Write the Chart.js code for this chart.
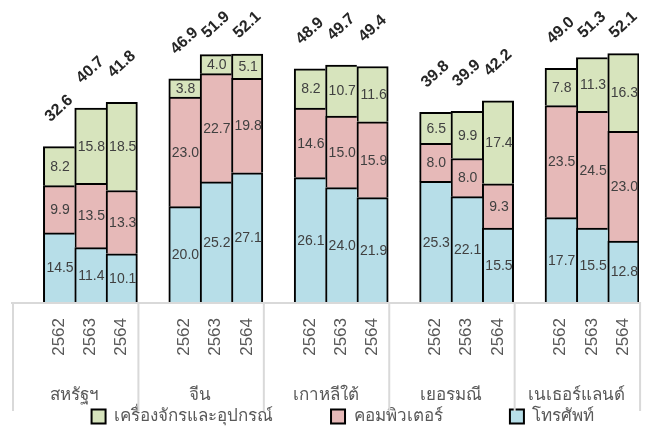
<!DOCTYPE html>
<html>
<head>
<meta charset="utf-8">
<script src="https://cdn.jsdelivr.net/npm/chart.js@4/dist/chart.umd.min.js"></script>
<style>
  html, body { margin: 0; padding: 0; background: #fff; }
  #wrap { width: 660px; height: 435px; }
</style>
</head>
<body>
<div id="wrap"><canvas id="tradeChart" width="660" height="435"></canvas></div>
<script>
// Countries and years shown on the two-level x axis
const countries = ['สหรัฐฯ', 'จีน', 'เกาหลีใต้', 'เยอรมณี', 'เนเธอร์แลนด์'];
const years = ['2562', '2563', '2564'];

// Values per country, three years each
const phones = [
    [14.5, 11.4, 10.1],
    [20.0, 25.2, 27.1],
    [26.1, 24.0, 21.9],
    [25.3, 22.1, 15.5],
    [17.7, 15.5, 12.8]
];
const computers = [
    [9.9, 13.5, 13.3],
    [23.0, 22.7, 19.8],
    [14.6, 15.0, 15.9],
    [8.0, 8.0, 9.3],
    [23.5, 24.5, 23.0]
];
const machinery = [
    [8.2, 15.8, 18.5],
    [3.8, 4.0, 5.1],
    [8.2, 10.7, 11.6],
    [6.5, 9.9, 17.4],
    [7.8, 11.3, 16.3]
];
const totals = [
    [32.6, 40.7, 41.8],
    [46.9, 51.9, 52.1],
    [48.9, 49.7, 49.4],
    [39.8, 39.9, 42.2],
    [49.0, 51.3, 52.1]
];

const seriesNames = ['โทรศัพท์', 'คอมพิวเตอร์', 'เครื่องจักรและอุปกรณ์'];
const seriesColors = ['#b7dee8', '#e6b9b8', '#d7e4bd'];

const FONT = "'Liberation Sans', Arial, 'Noto Sans', sans-serif";
const TEXT = '#595959';

// every country gets one empty slot in front of its three bars
function slots(rows) {
    const out = [];
    rows.forEach(r => { out.push(null); r.forEach(v => out.push(v)); });
    return out;
}
const labels = slots(countries.map(() => years)).map(v => v === null ? '' : v);
const totalSlots = slots(totals);

// value labels inside each segment plus rotated totals on top
const valueLabels = {
    id: 'valueLabels',
    afterDatasetsDraw(chart) {
        const ctx = chart.ctx;
        ctx.save();
        ctx.textAlign = 'center';
        ctx.textBaseline = 'middle';
        ctx.fillStyle = '#404040';
        ctx.font = '14px ' + FONT;
        chart.data.datasets.forEach((ds, di) => {
            chart.getDatasetMeta(di).data.forEach((bar, i) => {
                if (ds.data[i] == null) return;
                ctx.fillText(ds.data[i].toFixed(1), bar.x + 1, (bar.y + bar.base) / 2 + 1);
            });
        });
        const top = chart.getDatasetMeta(chart.data.datasets.length - 1).data;
        ctx.font = 'bold 16px ' + FONT;
        ctx.fillStyle = '#262626';
        top.forEach((bar, i) => {
            if (totalSlots[i] == null) return;
            const y = Math.max(bar.y - 38, 25);
            ctx.save();
            ctx.translate(bar.x, y);
            ctx.rotate(-0.74);
            ctx.fillText(totalSlots[i].toFixed(1), 0, 0);
            ctx.restore();
        });
        ctx.restore();
    }
};

// country names and the separators of the grouped axis
const groupAxis = {
    id: 'groupAxis',
    afterLayout(chart) {
        // nudge the legend row a little to the right
        chart.legend.left += 11;
        chart.legend.right += 11;
    },
    afterDatasetsDraw(chart) {
        const ctx = chart.ctx;
        const x = chart.scales.x;
        const base = chart.chartArea.bottom;
        const bottom = base + 109;
        const edges = [x.left];
        countries.forEach((c, k) => {
            const last = k * 4 + 3;
            edges.push(k === countries.length - 1 ? x.right
                : (x.getPixelForValue(last) + x.getPixelForValue(last + 1)) / 2);
        });
        ctx.save();
        ctx.strokeStyle = '#d9d9d9';
        ctx.lineWidth = 2;
        ctx.beginPath();
        ctx.moveTo(x.left - 1, base + 1);
        ctx.lineTo(x.right + 1, base + 1);
        edges.forEach(e => { ctx.moveTo(e + 1, base); ctx.lineTo(e + 1, bottom); });
        ctx.stroke();
        ctx.fillStyle = TEXT;
        ctx.font = '17px ' + FONT;
        ctx.textAlign = 'center';
        ctx.textBaseline = 'middle';
        countries.forEach((c, k) => {
            ctx.fillText(c, (edges[k] + edges[k + 1]) / 2, base + 93);
        });
        ctx.restore();
    }
};

// one 2px outline per edge: stacked and side-by-side segments share their borders
function outline(ctx) {
    return { top: 2, bottom: 0, left: 2, right: ctx.dataIndex % 4 === 3 ? 2 : 0 };
}

const datasets = [phones, computers, machinery].map((rows, k) => ({
    label: seriesNames[k],
    data: slots(rows),
    backgroundColor: seriesColors[k],
    borderColor: '#000000',
    borderWidth: outline,
    borderSkipped: false,
    categoryPercentage: 1,
    barPercentage: 1
}));

new Chart(document.getElementById('tradeChart'), {
    type: 'bar',
    data: { labels: labels, datasets: datasets },
    plugins: [valueLabels, groupAxis],
    options: {
        responsive: false,
        animation: false,
        layout: { padding: { left: 12, right: 8, top: 16, bottom: 0 } },
        scales: {
            x: {
                stacked: true,
                grid: { display: false, drawTicks: false },
                border: { display: false },
                ticks: {
                    autoSkip: false,
                    minRotation: 90,
                    maxRotation: 90,
                    padding: 16,
                    color: TEXT,
                    font: { family: FONT, size: 17 }
                },
                afterFit(scale) { scale.height = 100; }
            },
            y: {
                stacked: true,
                display: false,
                min: 0,
                max: 60
            }
        },
        plugins: {
            tooltip: { enabled: false },
            legend: {
                position: 'bottom',
                reverse: true,
                labels: {
                    boxWidth: 14,
                    boxHeight: 14,
                    padding: 6,
                    color: TEXT,
                    font: { family: FONT, size: 17 },
                    generateLabels(chart) {
                        const items = Chart.defaults.plugins.legend.labels.generateLabels(chart);
                        items.forEach(it => {
                            it.lineWidth = 2;
                            if (it.datasetIndex === 2) it.text += '           ';
                            if (it.datasetIndex === 1) it.text += '             ';
                        });
                        return items;
                    }
                }
            }
        }
    }
});
</script>
</body>
</html>
